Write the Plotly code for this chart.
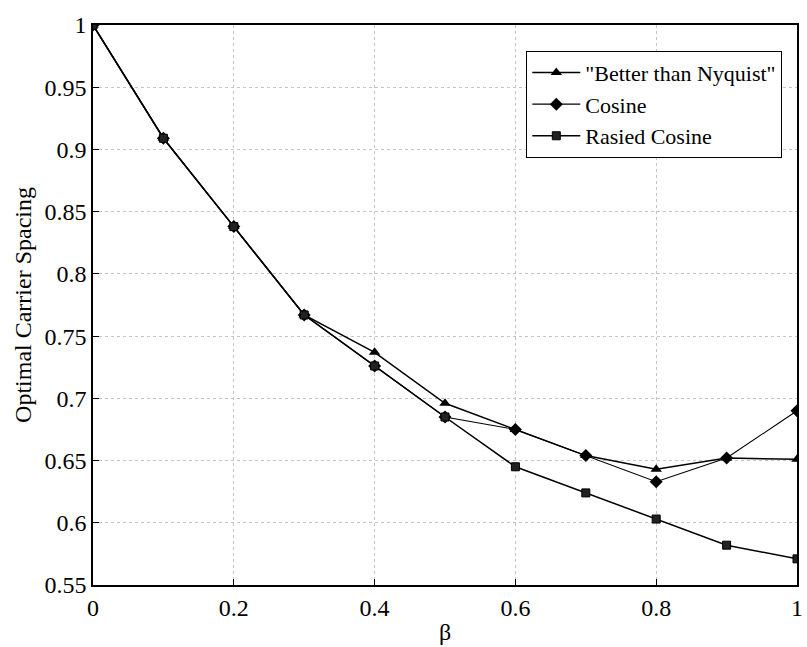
import plotly.graph_objects as go

beta = [0.0, 0.1, 0.2, 0.3, 0.4, 0.5, 0.6, 0.7, 0.8, 0.9, 1.0]
better_than_nyquist = [1.0, 0.909, 0.838, 0.767, 0.737, 0.696, 0.675, 0.654, 0.643, 0.652, 0.651]
cosine = [1.0, 0.909, 0.838, 0.767, 0.726, 0.685, 0.675, 0.654, 0.633, 0.652, 0.690]
raised_cosine = [1.0, 0.909, 0.838, 0.767, 0.726, 0.685, 0.645, 0.624, 0.603, 0.582, 0.571]

series_names = ['"Better than Nyquist"', "Cosine", "Rasied Cosine"]
x_ticks = [0, 0.2, 0.4, 0.6, 0.8, 1.0]
x_ticklabels = ["0", "0.2", "0.4", "0.6", "0.8", "1"]
y_ticks = [0.55, 0.6, 0.65, 0.7, 0.75, 0.8, 0.85, 0.9, 0.95, 1.0]
y_ticklabels = ["0.55", "0.6", "0.65", "0.7", "0.75", "0.8", "0.85", "0.9", "0.95", "1"]

FONT = "Liberation Serif"

fig = go.Figure()
fig.add_trace(go.Scatter(
    x=beta, y=better_than_nyquist, name=series_names[0], mode="lines+markers",
    line=dict(color="black", width=1.5),
    marker=dict(symbol="triangle-up", size=10, color="black")))
fig.add_trace(go.Scatter(
    x=beta, y=cosine, name=series_names[1], mode="lines+markers",
    line=dict(color="black", width=1.1),
    marker=dict(symbol="diamond", size=10, color="black")))
fig.add_trace(go.Scatter(
    x=beta, y=raised_cosine, name=series_names[2], mode="lines+markers",
    line=dict(color="black", width=1.5),
    marker=dict(symbol="square", size=8, color="#222", line=dict(color="black", width=1))))

axis_common = dict(
    showline=True, linecolor="black", linewidth=1.5, mirror=True,
    ticks="inside", ticklen=6, tickcolor="black", tickwidth=1,
    showgrid=True, gridcolor="#c4c4c4", griddash="dot", gridwidth=1,
    zeroline=False, ticklabeloverflow="allow",
    tickfont=dict(family=FONT, size=24, color="black"),
)

fig.update_layout(
    width=807, height=647,
    margin=dict(l=93, r=4, t=25, b=62),
    paper_bgcolor="white", plot_bgcolor="white",
    font=dict(family=FONT, color="black"),
    showlegend=True,
    legend=dict(
        x=0.6155, y=0.954, xanchor="left", yanchor="top",
        bgcolor="white", bordercolor="black", borderwidth=1,
        font=dict(family=FONT, size=22, color="black"),
        tracegroupgap=0, itemwidth=48,
    ),
    xaxis=dict(
        range=[0, 1], tickvals=x_ticks, ticktext=x_ticklabels,
        title=dict(text="β", font=dict(family=FONT, size=24), standoff=4),
        **axis_common),
    yaxis=dict(
        range=[0.55, 1.0], tickvals=y_ticks, ticktext=y_ticklabels,
        title=dict(text="Optimal Carrier Spacing", font=dict(family=FONT, size=24), standoff=6),
        **axis_common),
)

fig.write_html("out.html")
